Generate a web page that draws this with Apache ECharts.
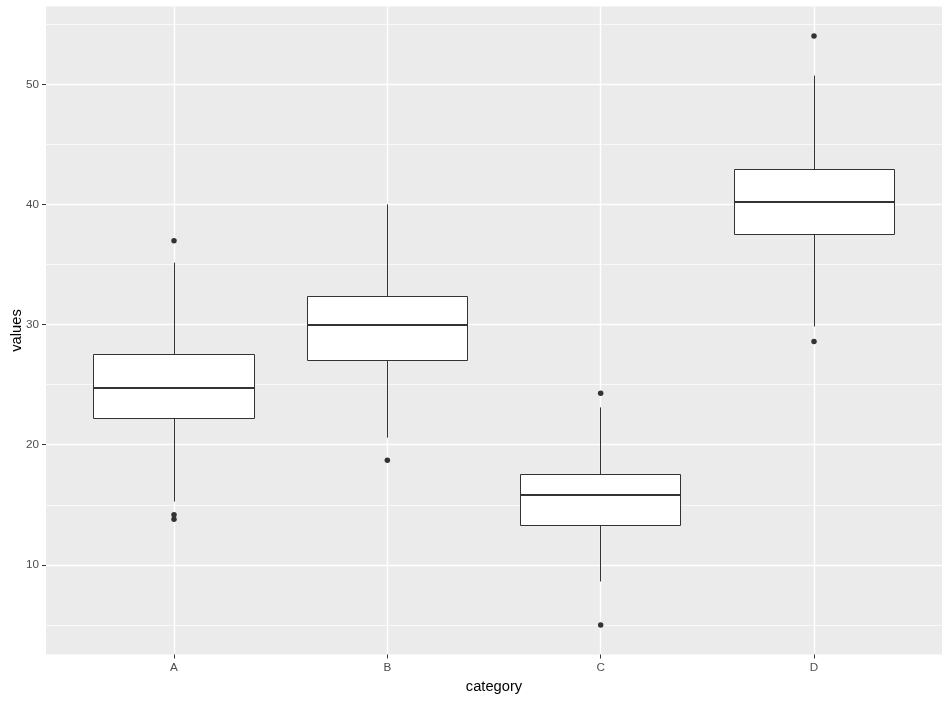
<!DOCTYPE html>
<html>
<head>
<meta charset="utf-8">
<script src="https://cdn.jsdelivr.net/npm/echarts@6/dist/echarts.min.js"></script>
<style>
html, body { margin: 0; padding: 0; background: #ffffff; }
#chart { width: 950px; height: 701px; }
</style>
</head>
<body>
<div id="chart"></div>
<script>
// ---- data ----
const categories = ['A', 'B', 'C', 'D'];
const whiskerLow  = [15.27, 20.59,  8.61, 29.85];
const q1          = [22.20, 27.02, 13.30, 37.50];
const median      = [24.72, 29.98, 15.82, 40.21];
const q3          = [27.52, 32.34, 17.54, 42.90];
const whiskerHigh = [35.17, 40.02, 23.11, 50.75];
const outlierCategory = ['A', 'A', 'A', 'B', 'C', 'C', 'D', 'D'];
const outlierValue    = [37.00, 14.16, 13.80, 18.70, 24.28, 4.98, 54.05, 28.60];
const yMajorTicks = [10, 20, 30, 40, 50];
const yMinorLines = [5, 15, 25, 35, 45, 55];
const yLimits = [2.53, 56.5];
const xLimits = [0.4, 4.6];

// ---- build series data ----
const catPos = categories.map((c, i) => i + 1);
const boxData = categories.map((c, i) => [catPos[i], whiskerLow[i], q1[i], median[i], q3[i], whiskerHigh[i]]);
const outlierData = outlierCategory.map((c, i) => [categories.indexOf(c) + 1, outlierValue[i]]);

const INK = '#333333';
const BOX_FRAC = 0.75;

function crisp(v) { return Math.round(v - 0.5) + 0.5; }

const chart = echarts.init(document.getElementById('chart'), null, { renderer: 'canvas' });

chart.setOption({
  animation: false,
  backgroundColor: '#ffffff',
  textStyle: { fontFamily: 'Liberation Sans, Arial, sans-serif' },
  grid: {
    left: 46, right: 8, top: 6.5, bottom: 46.5,
    show: true, backgroundColor: '#EBEBEB', borderWidth: 0,
    containLabel: false,
    outerBoundsMode: 'none'
  },
  xAxis: {
    type: 'value',
    min: xLimits[0], max: xLimits[1],
    name: 'category',
    nameLocation: 'middle',
    nameGap: 25,
    nameMoveOverlap: false,
    nameTextStyle: { color: '#000000', fontSize: 14.7, fontFamily: 'Liberation Sans, Arial, sans-serif' },
    axisLine: { show: false },
    axisTick: { show: true, length: 4, customValues: catPos, lineStyle: { color: INK, width: 1 } },
    axisLabel: {
      customValues: catPos,
      margin: 7.5,
      color: '#4D4D4D', fontSize: 11.7,
      formatter: v => categories[Math.round(v) - 1] || ''
    },
    splitLine: { show: true, lineStyle: { color: '#ffffff', width: 1.4 } }
  },
  yAxis: [
    {
      type: 'value',
      min: yLimits[0], max: yLimits[1],
      name: 'values',
      nameLocation: 'middle',
      nameGap: 22,
      nameRotate: 90,
      nameMoveOverlap: false,
      nameTextStyle: { color: '#000000', fontSize: 14.7, fontFamily: 'Liberation Sans, Arial, sans-serif' },
      axisLine: { show: false },
      axisTick: { show: true, length: 4, customValues: yMajorTicks, lineStyle: { color: INK, width: 1 } },
      axisLabel: { customValues: yMajorTicks, margin: 7, color: '#4D4D4D', fontSize: 11.7 },
      splitLine: { show: true, lineStyle: { color: '#ffffff', width: 1.4 } }
    },
    {
      type: 'value',
      min: yLimits[0], max: yLimits[1],
      position: 'left',
      axisLine: { show: false },
      axisTick: { show: false, customValues: yMinorLines },
      axisLabel: { show: false, customValues: yMinorLines },
      splitLine: { show: true, lineStyle: { color: '#ffffff', width: 0.7 } }
    }
  ],
  series: [
    {
      type: 'custom',
      xAxisIndex: 0, yAxisIndex: 0,
      data: boxData,
      z: 3,
      renderItem: function (params, api) {
        const x = api.value(0);
        const lo = api.coord([x, api.value(1)]);
        const b1 = api.coord([x, api.value(2)]);
        const md = api.coord([x, api.value(3)]);
        const b3 = api.coord([x, api.value(4)]);
        const hi = api.coord([x, api.value(5)]);
        const w = api.size([BOX_FRAC, 0])[0];
        const cx = crisp(lo[0]);
        const left = crisp(lo[0] - w / 2);
        const right = crisp(lo[0] + w / 2);
        const yQ3 = crisp(b3[1]);
        const yQ1 = crisp(b1[1]);
        const lineStyle = { stroke: INK, lineWidth: 1 };
        return {
          type: 'group',
          children: [
            { type: 'line', shape: { x1: cx, y1: hi[1], x2: cx, y2: yQ3 }, style: lineStyle },
            { type: 'line', shape: { x1: cx, y1: yQ1, x2: cx, y2: lo[1] }, style: lineStyle },
            { type: 'rect', shape: { x: left, y: yQ3, width: right - left, height: yQ1 - yQ3 },
              style: { fill: '#ffffff', stroke: INK, lineWidth: 1 } },
            { type: 'line', shape: { x1: left, y1: Math.round(md[1]), x2: right, y2: Math.round(md[1]) },
              style: { stroke: INK, lineWidth: 2 } }
          ]
        };
      }
    },
    {
      type: 'scatter',
      xAxisIndex: 0, yAxisIndex: 0,
      data: outlierData,
      symbol: 'circle',
      symbolSize: 5.5,
      itemStyle: { color: INK, opacity: 1 },
      z: 4
    }
  ]
});
</script>
</body>
</html>
